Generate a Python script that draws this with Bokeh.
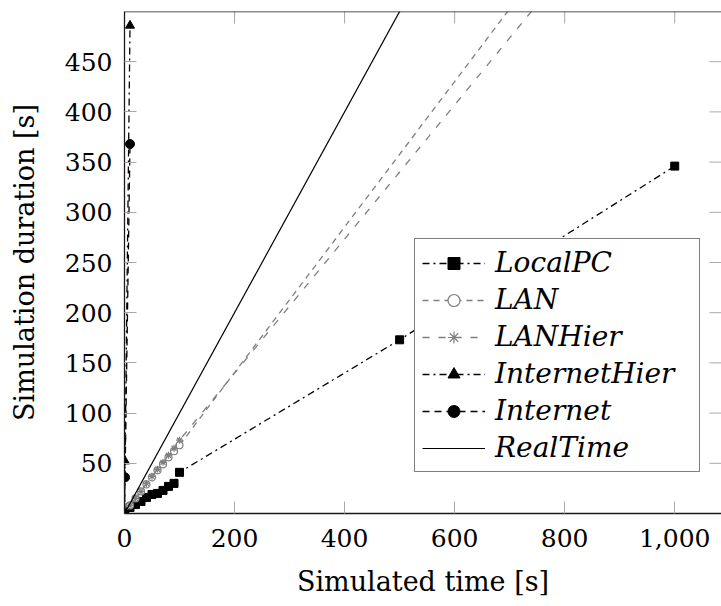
from bokeh.plotting import figure
from bokeh.models import (Range1d, FixedTicker, NumeralTickFormatter, Span,
                          Legend, LegendItem)
from bokeh.embed import file_html
from bokeh.resources import INLINE

# Simulated time [s] vs. wall-clock simulation duration [s] per setup
localpc_time = [0, 10, 20, 30, 40, 50, 60, 70, 80, 90, 100, 500, 1000]
localpc_duration = [0, 6, 9, 12, 16, 19, 20, 23, 27, 30, 41, 173, 346]

lan_time = [0, 10, 20, 30, 40, 50, 60, 70, 80, 90, 100, 1000]
lan_duration = [0, 8, 15, 22, 29, 36, 43, 49, 56, 62, 68, 720]

lanhier_time = [0, 10, 20, 30, 40, 50, 60, 70, 80, 90, 100, 1000]
lanhier_duration = [0, 8, 15, 22, 30, 37, 44, 51, 58, 65, 73, 674]

internethier_time = [0, 1, 10]
internethier_duration = [0, 52, 486]

internet_time = [0, 1, 10]
internet_duration = [0, 36, 368]

realtime_time = [0, 1000]
realtime_duration = [0, 1000]

x_ticks = [0, 200, 400, 600, 800, 1000]
y_ticks = [50, 100, 150, 200, 250, 300, 350, 400, 450]

X_MAX, Y_MAX = 1085, 500
GRAY = "#7f7f7f"
TICK_GRAY = "#a8a8a8"
FRAME = "#1a1a1a"
SERIF = "DejaVu Serif"

p = figure(width=721, height=606, output_backend="svg", toolbar_location=None,
           x_range=Range1d(0, X_MAX), y_range=Range1d(0, Y_MAX),
           min_border_left=124, min_border_right=0, min_border_top=11,
           min_border_bottom=93)
p.outline_line_color = None
p.xgrid.visible = False
p.ygrid.visible = False
p.background_fill_color = "white"
p.border_fill_color = "white"


def style_axis(ax, ticks):
    ax.ticker = FixedTicker(ticks=ticks)
    ax.major_tick_in = 12
    ax.major_tick_out = 0
    ax.minor_tick_in = 0
    ax.minor_tick_out = 0
    ax.major_tick_line_color = TICK_GRAY
    ax.major_tick_line_width = 1
    ax.axis_line_color = FRAME
    ax.axis_line_width = 1.3
    ax.major_label_text_font = SERIF
    ax.major_label_text_font_size = "25px"
    ax.major_label_text_color = "black"
    ax.axis_label_text_font = SERIF
    ax.axis_label_text_font_size = "27px"
    ax.axis_label_text_font_style = "normal"
    ax.axis_label_text_color = "black"


xa = p.xaxis[0]
style_axis(xa, x_ticks)
xa.formatter = NumeralTickFormatter(format="0,0")
xa.axis_label = "Simulated time [s]"
xa.major_label_standoff = 15
xa.axis_label_standoff = 16

ya = p.yaxis[0]
style_axis(ya, y_ticks)
ya.axis_label = "Simulation duration [s]"
ya.major_label_standoff = 12
ya.axis_label_standoff = 22

# Mirrored tick marks on the top and right sides of the frame
n_x, n_y = len(x_ticks), len(y_ticks)
tick_dy = 12 * Y_MAX / 502
tick_dx = 12 * X_MAX / 597
p.segment(x0=x_ticks, y0=[Y_MAX] * n_x, x1=x_ticks, y1=[Y_MAX - tick_dy] * n_x,
          line_color=TICK_GRAY, line_width=1)
p.segment(x0=[X_MAX] * n_y, y0=y_ticks, x1=[X_MAX - tick_dx] * n_y, y1=y_ticks,
          line_color=TICK_GRAY, line_width=1)
p.add_layout(Span(location=Y_MAX, dimension="width", line_color=FRAME, line_width=1.3))

# Series
lw = 1.3
l_local = p.line(localpc_time, localpc_duration, line_color="black", line_width=lw,
                 line_dash="7 4 2 4")
s_local = p.scatter(localpc_time, localpc_duration, marker="square", size=8,
                    fill_color="black", line_color="black")

l_lan = p.line(lan_time, lan_duration, line_color=GRAY, line_width=lw, line_dash="6 5")
s_lan = p.scatter(lan_time, lan_duration, marker="circle", size=7,
                  fill_color="white", line_color=GRAY, line_width=1.2)

l_lanh = p.line(lanhier_time, lanhier_duration, line_color=GRAY, line_width=lw,
                line_dash="7 9")
s_lanh = p.scatter(lanhier_time, lanhier_duration, marker="asterisk", size=7,
                   line_color=GRAY, line_width=1.2)

l_ih = p.line(internethier_time, internethier_duration, line_color="black",
              line_width=lw, line_dash="7 4 2 4")
s_ih = p.scatter(internethier_time, internethier_duration, marker="triangle", size=9,
                 fill_color="black", line_color="black")

l_in = p.line(internet_time, internet_duration, line_color="black", line_width=lw,
              line_dash="7 5")
s_in = p.scatter(internet_time, internet_duration, marker="circle", size=9,
                 fill_color="black", line_color="black")

l_rt = p.line(realtime_time, realtime_duration, line_color="black", line_width=1.2)

legend = Legend(items=[
    LegendItem(label="LocalPC", renderers=[l_local, s_local]),
    LegendItem(label="LAN", renderers=[l_lan, s_lan]),
    LegendItem(label="LANHier", renderers=[l_lanh, s_lanh]),
    LegendItem(label="InternetHier", renderers=[l_ih, s_ih]),
    LegendItem(label="Internet", renderers=[l_in, s_in]),
    LegendItem(label="RealTime", renderers=[l_rt]),
], location=(290, 41))
legend.glyph_width = 63
legend.glyph_height = 30
legend.label_height = 30
legend.label_width = 197
legend.label_standoff = 10
legend.spacing = 4
legend.padding = 7
legend.margin = 0
legend.border_line_color = "black"
legend.border_line_width = 1.2
legend.background_fill_color = "white"
legend.background_fill_alpha = 1
legend.label_text_font = SERIF
legend.label_text_font_style = "italic"
legend.label_text_font_size = "28px"
legend.label_text_color = "black"
p.add_layout(legend)

open("out.html", "w").write(file_html(p, INLINE))
